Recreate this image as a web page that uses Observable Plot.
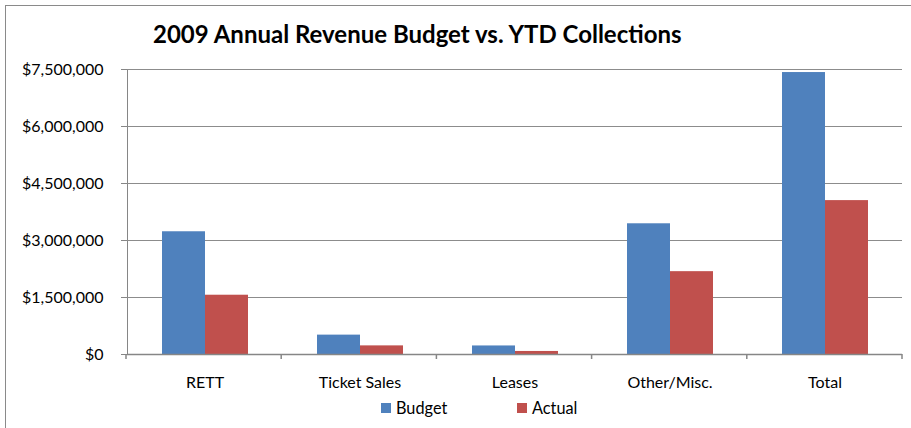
<!DOCTYPE html>
<html>
<head>
<meta charset="utf-8">
<script src="https://cdn.jsdelivr.net/npm/d3@7"></script>
<script src="https://cdn.jsdelivr.net/npm/@observablehq/plot@0.6"></script>
<style>
  html, body { margin: 0; padding: 0; background: #fff; }
  #wrap { position: relative; width: 911px; height: 428px; overflow: hidden; font-family: Lato, "Noto Sans", sans-serif; }
  #frame { position: absolute; left: 5px; top: 5px; width: 920px; height: 440px; border-left: 1px solid #8a8a8a; border-top: 1px solid #8a8a8a; }
  #title { position: absolute; left: 153px; top: 19px; font-size: 24px; font-weight: bold; color: #000; white-space: nowrap; }
  #chart { position: absolute; left: 0; top: 60px; }
  #chart svg text { fill: #000; }
  #legend { position: absolute; top: 398px; left: 0; width: 911px; font-size: 16.3px; color: #000; }
  .item { position: absolute; display: flex; align-items: center; white-space: nowrap; }
  .sw { width: 10px; height: 10px; margin-right: 5px; }
</style>
</head>
<body>
<div id="wrap">
  <div id="frame"></div>
  <div id="title">2009 Annual Revenue Budget vs. YTD Collections</div>
  <div id="chart"></div>
  <div id="legend"></div>
</div>
<script>
const categories = ["RETT", "Ticket Sales", "Leases", "Other/Misc.", "Total"];
const series = ["Budget", "Actual"];
const budget = [3230000, 510000, 225000, 3440000, 7420000];
const actual = [1560000, 227000, 80000, 2180000, 4050000];
const yTicks = [0, 1500000, 3000000, 4500000, 6000000, 7500000];
const colors = ["#4F81BD", "#C0504D"];

const data = categories.flatMap((c, i) => [
  {category: c, series: "Budget", value: budget[i]},
  {category: c, series: "Actual", value: actual[i]}
]);

const fmt = d => "$" + d3.format(",")(d);

const chart = Plot.plot({
  width: 911,
  height: 335,
  marginLeft: 126,
  marginRight: 9,
  marginTop: 9,
  marginBottom: 41,
  style: {color: "#868686", background: "transparent", fontFamily: "Lato, 'Noto Sans', sans-serif", fontSize: "16px"},
  facet: {data, x: "category"},
  fx: {domain: categories, padding: 0, label: null, axis: "bottom", tickSize: 0, tickPadding: 22},
  x: {domain: series, axis: null, paddingInner: 0, paddingOuter: 0.764},
  y: {domain: [0, 7500000], ticks: yTicks, tickFormat: fmt, label: null, tickSize: 6, tickPadding: 18, line: true},
  color: {domain: series, range: colors},
  marks: [
    Plot.ruleY(yTicks.slice(1), {stroke: "#8c8c8c", strokeWidth: 1}),
    Plot.barY(data, {x: "series", y: "value", fill: "series"}),
    Plot.ruleY([0], {stroke: "#868686", strokeWidth: 1.5})
  ]
});

// category boundary tick marks below the x axis, from the fx scale
const fx = chart.scale("fx");
const y = chart.scale("y");
const [r0, r1] = fx.range;
const step = (r1 - r0) / fx.domain.length;
const y0 = y.apply ? y.apply(0) : 354;
const g = d3.select(chart).append("g").attr("stroke", "#868686").attr("stroke-width", 1.5);
d3.range(fx.domain.length + 1).forEach(i => {
  const xx = r0 + i * step;
  g.append("line").attr("x1", xx).attr("x2", xx).attr("y1", y0).attr("y2", y0 + 5);
});

document.getElementById("chart").appendChild(chart);

const legend = document.getElementById("legend");
const legendX = [381, 517];
series.forEach((s, i) => {
  const it = document.createElement("div");
  it.className = "item";
  it.style.left = legendX[i] + "px";
  it.innerHTML = `<div class="sw" style="background:${colors[i]}"></div><span>${s}</span>`;
  legend.appendChild(it);
});
</script>
</body>
</html>
